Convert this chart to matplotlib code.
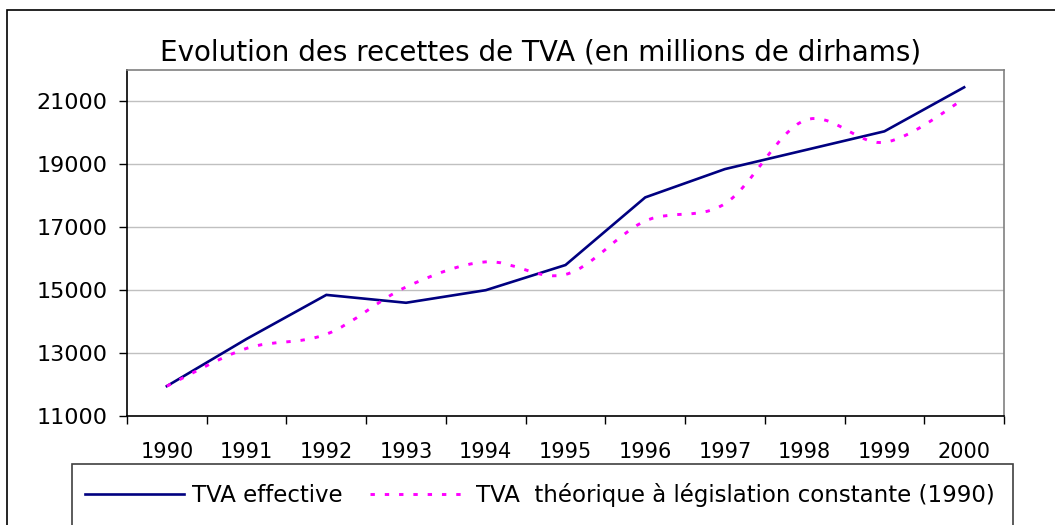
import numpy as np
import matplotlib
matplotlib.use("Agg")
import matplotlib.pyplot as plt
from matplotlib.path import Path
from matplotlib.patches import PathPatch, Rectangle
from matplotlib.lines import Line2D

plt.rcParams['font.family'] = ['DejaVu Sans']

years = ['1990', '1991', '1992', '1993', '1994', '1995',
         '1996', '1997', '1998', '1999', '2000']
tva_effective = [11950, 13450, 14850, 14600, 15000, 15800,
                 17950, 18850, 19450, 20050, 21450]
tva_theorique = [11950, 13150, 13600, 15100, 15900, 15500,
                 17200, 17750, 20400, 19700, 21080]

W, H = 1055, 525
fig = plt.figure(figsize=(W / 100, H / 100), dpi=100)


def fx(px):
    return px / W


def fy(py):
    return 1 - py / H


ax = fig.add_axes([fx(127), fy(416), fx(1004) - fx(127), fy(70) - fy(416)])

x = np.arange(len(years))
navy = '#000080'
magenta = '#ff00ff'

ax.plot(x, tva_effective, color=navy, lw=1.9, solid_joinstyle='miter', zorder=3)

# smoothed line (Catmull-Rom -> bezier), like Excel's smoothed series
pts = np.column_stack([x, tva_theorique]).astype(float)
verts = [pts[0]]
codes = [Path.MOVETO]
for i in range(len(pts) - 1):
    p0 = pts[max(i - 1, 0)]
    p1 = pts[i]
    p2 = pts[i + 1]
    p3 = pts[min(i + 2, len(pts) - 1)]
    c1 = p1 + (p2 - p0) / 6
    c2 = p2 - (p3 - p1) / 6
    verts += [c1, c2, p2]
    codes += [Path.CURVE4] * 3
dash = (0, (1.5, 3.4))
ax.add_patch(PathPatch(Path(verts, codes), fill=False, edgecolor=magenta,
                       lw=2.1, linestyle=dash, capstyle='butt', zorder=4))

ax.set_xlim(-0.5, len(years) - 0.5)
ax.set_ylim(11000, 22000)
ax.set_yticks(np.arange(11000, 21001, 2000))
ax.yaxis.grid(True, color='#c0c0c0', lw=1)
ax.set_axisbelow(True)

ax.set_xticks(np.arange(-0.5, len(years), 1.0))
ax.set_xticklabels([])
ax.set_xticks(x, minor=True)
ax.set_xticklabels(years, minor=True)
ax.tick_params(axis='x', which='minor', length=0, pad=19, labelsize=15)
ax.tick_params(axis='x', which='major', length=6, width=1, color='black')
ax.tick_params(axis='y', length=6, width=1, pad=8, labelsize=16)

for s in ['top', 'right']:
    ax.spines[s].set_color('#808080')
    ax.spines[s].set_linewidth(1.2)
for s in ['left', 'bottom']:
    ax.spines[s].set_color('black')
    ax.spines[s].set_linewidth(1.2)

fig.text(fx(541), fy(61), 'Evolution des recettes de TVA (en millions de dirhams)',
         ha='center', va='baseline', fontsize=20)

# outer chart frame (cut off at right and bottom)
fig.add_artist(Rectangle((fx(7), fy(540)), fx(1070) - fx(7), fy(10) - fy(540),
                         transform=fig.transFigure, fill=False,
                         edgecolor='black', lw=1.2))
# legend frame
fig.add_artist(Rectangle((fx(72), fy(540)), fx(1013) - fx(72), fy(464) - fy(540),
                         transform=fig.transFigure, fill=False,
                         edgecolor='#404040', lw=1.2))

handles = [Line2D([], [], color=navy, lw=1.9),
           Line2D([], [], color=magenta, lw=2.1, linestyle=dash)]
fig.legend(handles, ['TVA effective', 'TVA  théorique à législation constante (1990)'],
           loc='center left', bbox_to_anchor=(fx(85), fy(495)), ncol=2,
           frameon=False, fontsize=16.5, borderpad=0, borderaxespad=0,
           handlelength=4.3, handletextpad=0.35, columnspacing=1.2)

fig.savefig('out.png', dpi=100)
